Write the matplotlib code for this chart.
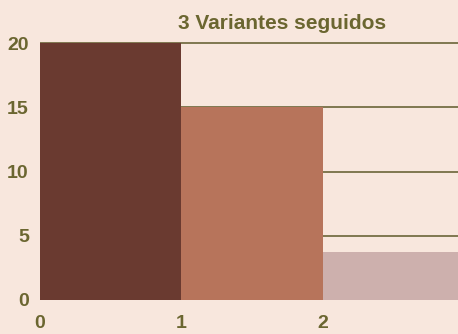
import matplotlib.pyplot as plt

# datos del gráfico
posiciones = [0, 1, 2]
valores = [20, 15, 3.7]
colores = ['#6a3a30', '#b7745b', '#cdb0ad']
marcas_y = [0, 5, 10, 15, 20]
marcas_x = [0, 1, 2]

fondo = '#f8e7dd'
oliva = '#6b6630'
fuente = ['Liberation Sans', 'DejaVu Sans']

fig = plt.figure(figsize=(4.58, 3.34), dpi=100, facecolor=fondo)
ax = fig.add_axes([0.0873, 0.1018, 0.9127, 0.7886])
ax.set_facecolor(fondo)

# líneas horizontales detrás de las barras
for y in marcas_y[1:]:
    ax.axhline(y, color='#5f5a2a', lw=1.1, zorder=1)

ax.bar(posiciones, valores, width=1, align='edge', color=colores, zorder=2)

ax.set_xlim(0, 2.954)
ax.set_ylim(0, 20.5)
for s in ax.spines.values():
    s.set_visible(False)

ax.set_yticks(marcas_y)
ax.set_xticks(marcas_x)
ax.tick_params(axis='y', length=0, pad=8)
ax.tick_params(axis='x', length=0, pad=11)
for lab in ax.get_yticklabels() + ax.get_xticklabels():
    lab.set_family(fuente)
    lab.set_fontweight('bold')
    lab.set_fontsize(14)
    lab.set_color(oliva)

fig.text(0.615, 0.93, '3 Variantes seguidos', ha='center', va='center',
         fontsize=15, fontweight='bold', color=oliva, family=fuente)

fig.savefig('out.png', dpi=100, facecolor=fondo)
